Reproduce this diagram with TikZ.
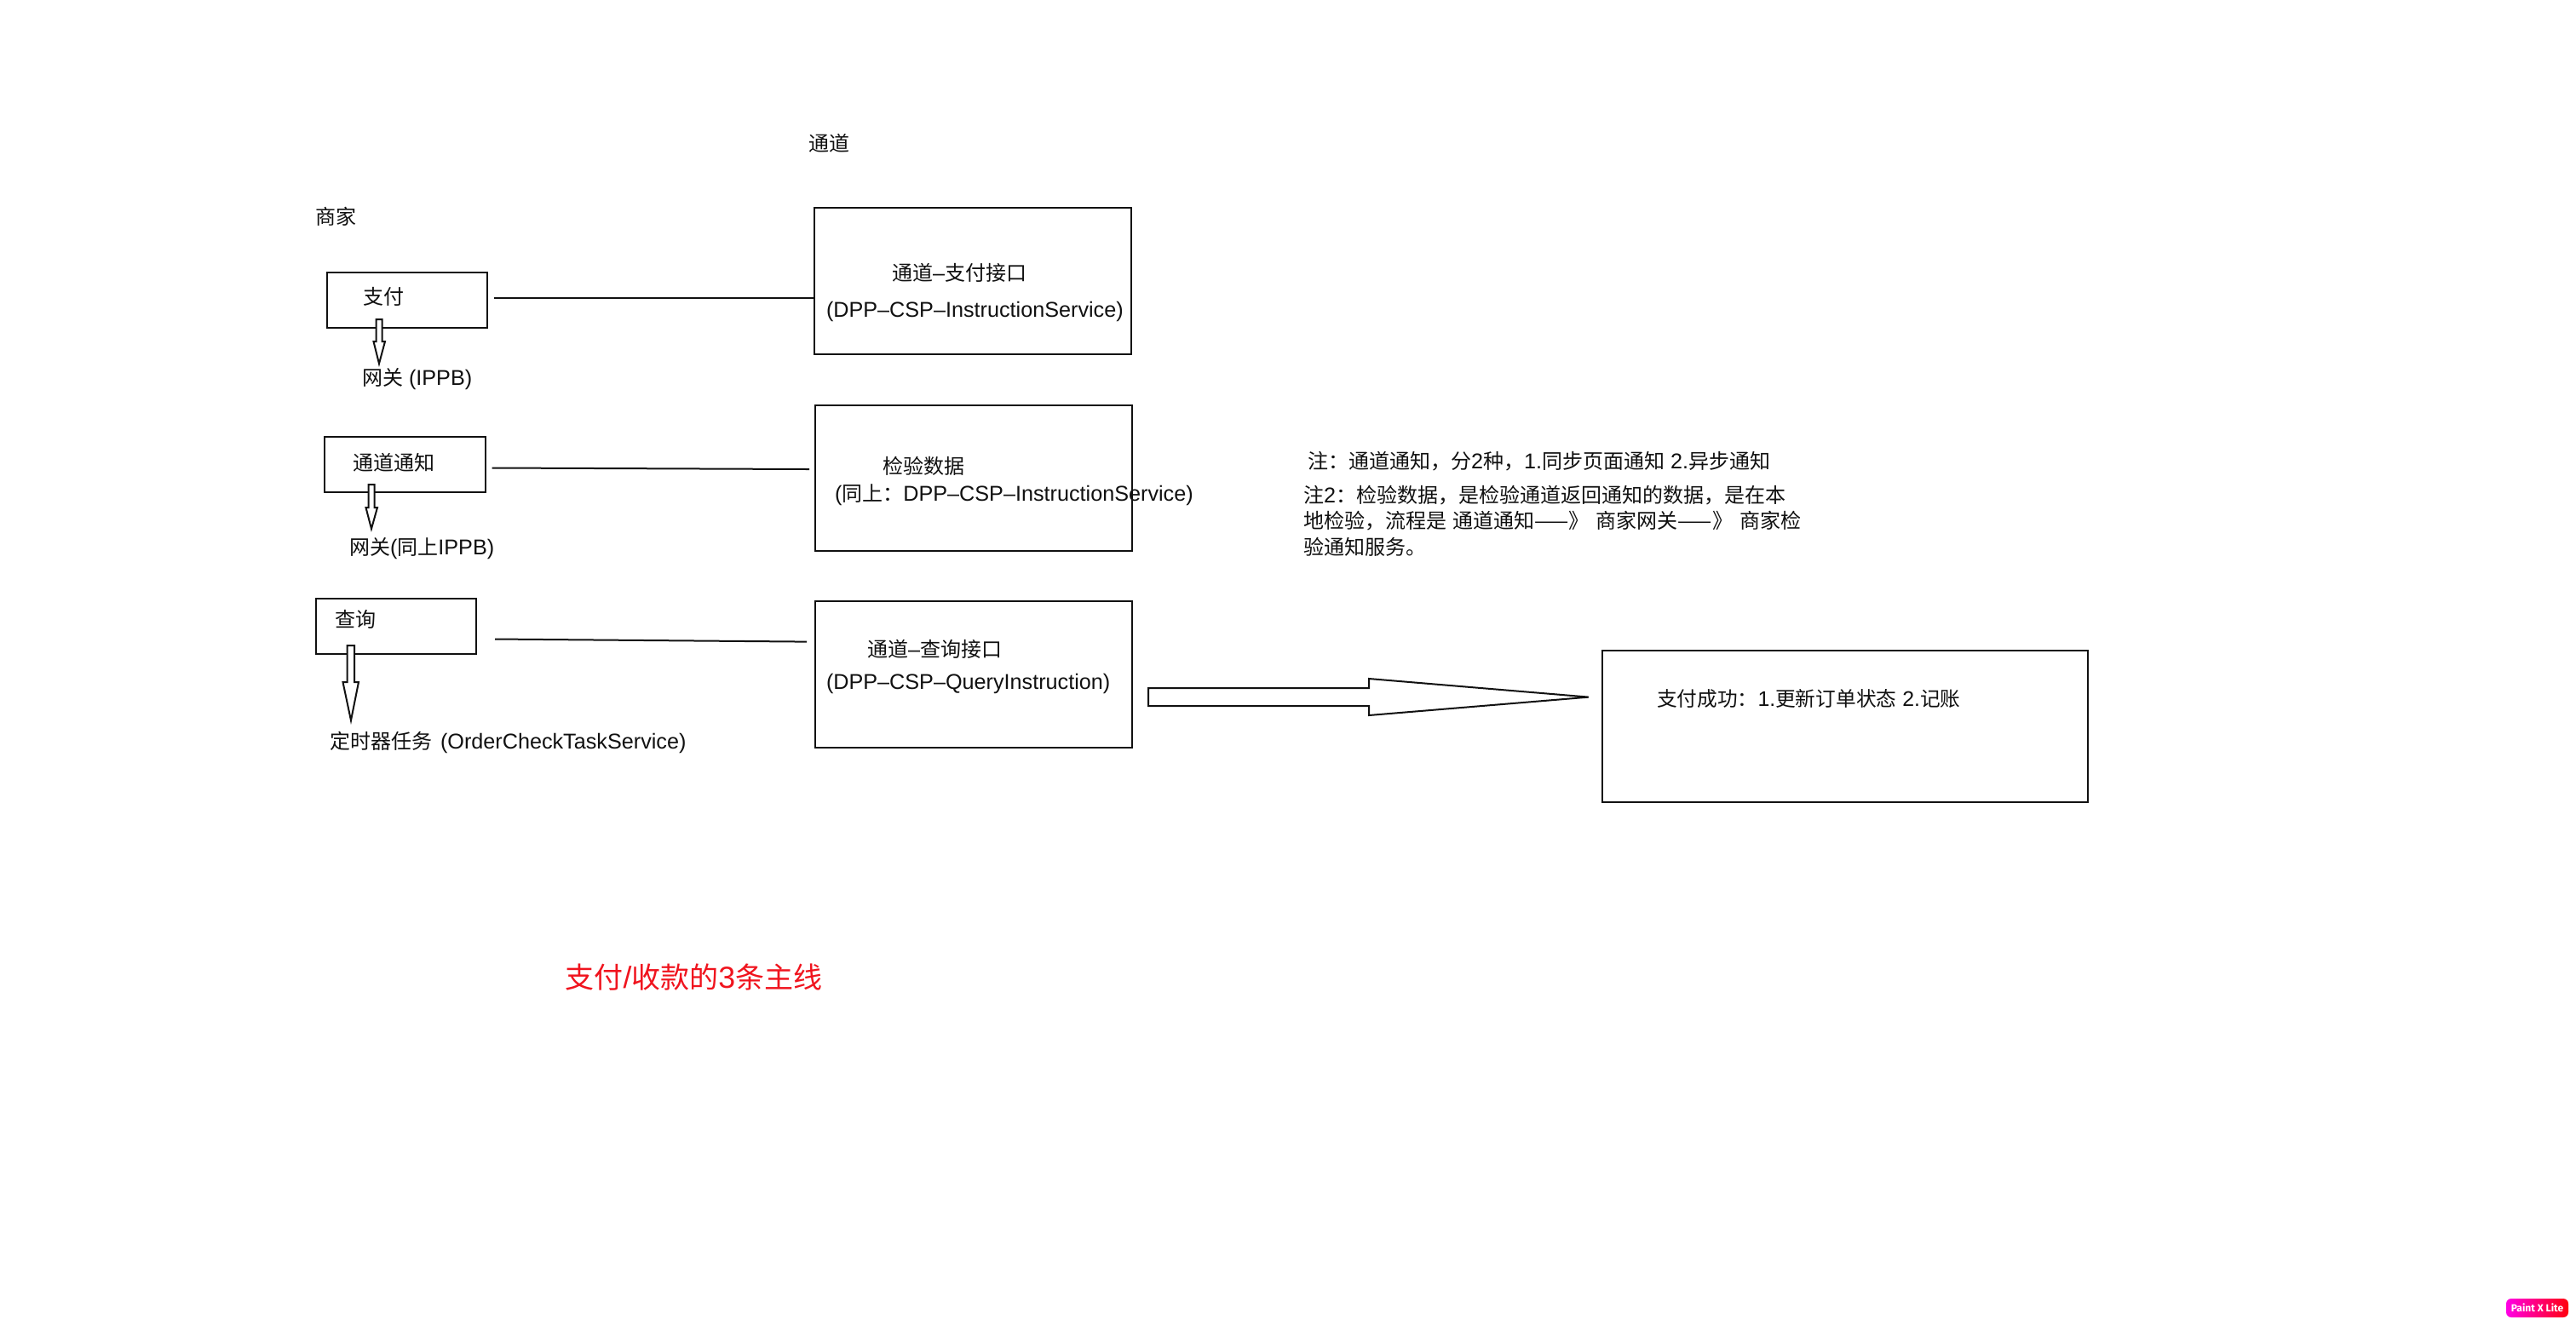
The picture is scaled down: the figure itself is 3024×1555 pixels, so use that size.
\documentclass[tikz,border=0pt]{standalone}
\usepackage{fontspec}
\setmainfont[Scale=1.05]{Liberation Sans}
\newfontfamily\cjk{Noto Sans CJK SC}
\newfontfamily\badgefont{Fira Sans}
\newcommand{\zh}[1]{{\cjk #1}}
\definecolor{inkc}{HTML}{111111}
\definecolor{redc}{HTML}{F0141E}
\tikzset{
  x=0.5pt,y=-0.5pt,
  boxn/.style={draw=inkc,line width=1pt,fill=white,inner sep=0pt,outer sep=0pt},
  lbl/.style={anchor=base west,inner sep=0pt,outer sep=0pt,text=inkc,font=\fontsize{12}{15}\selectfont},
  conn/.style={draw=inkc,line width=1pt},
  blockarrow/.style={draw=inkc,line width=1pt,fill=white,line join=miter}
}
\begin{document}
\begin{tikzpicture}
\path[use as bounding box,fill=white] (0,0) rectangle (3024,1555);
% boxes
\node[boxn,minimum width=94pt,minimum height=32.5pt] (pay) at (478,352.5) {};
\node[boxn,minimum width=186pt,minimum height=86.25pt] (chanpay) at (1141.5,330) {};
\node[boxn,minimum width=94.5pt,minimum height=32.5pt] (notify) at (475,545.5) {};
\node[boxn,minimum width=186pt,minimum height=85.5pt] (check) at (1143,561.5) {};
\node[boxn,minimum width=94.25pt,minimum height=32.5pt] (query) at (464.75,735.5) {};
\node[boxn,minimum width=186pt,minimum height=86pt] (chanquery) at (1143,792) {};
\node[boxn,minimum width=285pt,minimum height=89pt] (success) at (2166,853) {};
% connectors
\draw[conn] ([xshift=4pt,yshift=1.25pt]pay.east) -- ([yshift=-10pt]chanpay.west);
\draw[conn] ([xshift=4pt,yshift=-2pt]notify.east) -- ([xshift=-3.5pt,yshift=5.25pt]check.west);
\draw[conn] ([xshift=11pt,yshift=-7.5pt]query.east) -- ([xshift=-5pt,yshift=19.2pt]chanquery.west);
% block arrows
\draw[blockarrow] (441.5,375) -- (448.5,375) -- (448.5,401) -- (452,401) -- (445,427) -- (438.5,401) -- (441.5,401) -- cycle;
\draw[blockarrow] (432.5,569) -- (439.5,569) -- (439.5,596) -- (443,596) -- (436,621) -- (429.5,596) -- (432.5,596) -- cycle;
\draw[blockarrow] (407.5,758) -- (416,758) -- (416,801) -- (421,801) -- (412,846) -- (402.5,801) -- (407.5,801) -- cycle;
\draw[blockarrow] (1348,808) -- (1607,808) -- (1607,797) -- (1865,818.6) -- (1607,840) -- (1607,829) -- (1348,829) -- cycle;
% labels
\node[lbl] (tmerchant) at (370,263) {\zh{商家}};
\node[lbl] (tchannel) at (949,177) {\zh{通道}};
\node[lbl] (tpay) at (426,357) {\zh{支付}};
\node[lbl] (tnotify) at (414,552) {\zh{通道通知}};
\node[lbl] (tquery) at (393,736) {\zh{查询}};
\node[lbl] (tgw) at (425,452) {\zh{网关} (IPPB)};
\node[lbl] (tgw2) at (410,651) {\zh{网关}(\zh{同上}IPPB)};
\node[lbl] (ttimer) at (387,879) {\zh{定时器任务}\hspace{1.5pt} (OrderCheckTaskService)};
\node[lbl] (tcp1) at (1047,329) {\zh{通道}–\zh{支付接口}};
\node[lbl] (tcp2) at (970,372) {(DPP–CSP–InstructionService)};
\node[lbl] (tck1) at (1036,556) {\zh{检验数据}};
\node[lbl] (tck2) at (980,588) {(\zh{同上：}DPP–CSP–InstructionService)};
\node[lbl] (tcq1) at (1018,771) {\zh{通道}–\zh{查询接口}};
\node[lbl] (tcq2) at (970,809) {(DPP–CSP–QueryInstruction)};
\node[lbl,font=\fontsize{11.85}{15}\selectfont] (tsucc) at (1945,829) {\zh{支付成功：}1.\zh{更新订单状态} 2.\zh{记账}};
\node[lbl] (tn1) at (1535,550) {\zh{注：通道通知，分}2\zh{种，}1.\zh{同步页面通知} 2.\zh{异步通知}};
\node[lbl,align=left,anchor=north west] (tn2) at (1530,570)
  {\zh{注}2\zh{：检验数据，是检验通道返回通知的数据，是在本}\\[0.2pt]
   \zh{地检验，流程是\hspace{1pt} 通道通知——》\hspace{1.5pt} 商家网关——》\hspace{1.5pt} 商家检}\\[0.2pt]
   \zh{验通知服务。}};
\node[lbl,text=redc,font=\fontsize{17}{20}\selectfont] (ttitle) at (663.5,1160) {\zh{支付}/\zh{收款的}3\zh{条主线}};
% badge
\node[rounded corners=3pt,left color=magenta!90!red,right color=red!95!magenta,minimum width=36.5pt,minimum height=11pt,inner sep=0pt,text=white,font=\badgefont\bfseries\fontsize{6}{7}\selectfont] (badge) at (2978.5,1536) {Paint X Lite};
\end{tikzpicture}
\end{document}
